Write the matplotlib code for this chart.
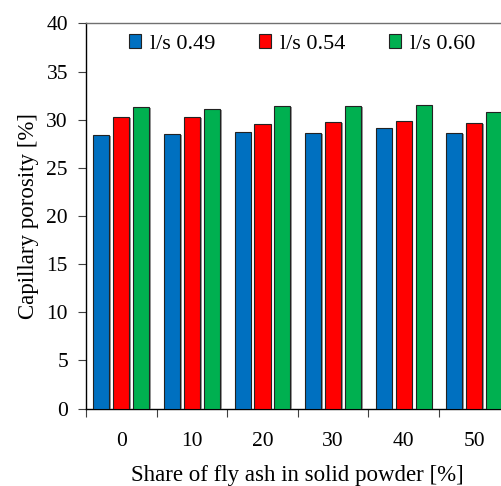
import matplotlib
matplotlib.use("Agg")
import matplotlib.pyplot as plt
import matplotlib.patheffects as pe
import numpy as np

plt.rcParams['font.family'] = ['Liberation Serif', 'DejaVu Serif']

categories = ['0', '10', '20', '30', '40', '50']
series_names = ['l/s 0.49', 'l/s 0.54', 'l/s 0.60']
ls049 = [28.4, 28.5, 28.7, 28.6, 29.1, 28.6]
ls054 = [30.3, 30.3, 29.55, 29.8, 29.9, 29.7]
ls060 = [31.3, 31.1, 31.45, 31.45, 31.5, 30.8]
colors = ['#0070C0', '#FF0000', '#00B050']
yticks = [0, 5, 10, 15, 20, 25, 30, 35, 40]

fig = plt.figure(figsize=(5.02, 4.86), dpi=100)
ax = fig.add_axes([86/502, 77.5/486, 423.6/502, 385/486])

x = np.arange(len(categories))
width = 0.227
offset = 0.283
shadow = [pe.SimplePatchShadow(offset=(1.2, -0.8), shadow_rgbFace='#7f7f7f', alpha=0.8), pe.Normal()]
for i, (vals, name, c) in enumerate(zip([ls049, ls054, ls060], series_names, colors)):
    bars = ax.bar(x + (i - 1) * offset, vals, width, color=c, edgecolor='#222222',
                  linewidth=0.8, label=name, zorder=3)
    for b in bars:
        b.set_path_effects(shadow)

ax.set_xlim(-0.5, len(categories) - 0.5)
ax.set_ylim(0, 40)
ax.set_yticks(yticks)
ax.set_xticks(np.arange(len(categories) + 1) - 0.5)
ax.set_xticklabels([])
ax.set_xticks(x, minor=True)
ax.set_xticklabels(categories, minor=True)
ax.tick_params(axis='x', which='major', direction='out', length=6, width=0.8, color='#404040')
ax.tick_params(axis='x', which='minor', length=0, pad=17, labelsize=15.5)
ax.tick_params(axis='y', direction='out', length=6, width=0.8, color='#404040', labelsize=15.5, pad=7)

for s in ['left', 'bottom']:
    ax.spines[s].set_color('black')
    ax.spines[s].set_linewidth(1.0)
ax.spines['top'].set_color('#707070')
ax.spines['top'].set_linewidth(1.0)
ax.spines['right'].set_color('#707070')

ax.set_ylabel('Capillary porosity [%]', fontsize=16.5)
ax.yaxis.set_label_coords(-0.11, 0.5)
ax.set_xlabel('Share of fly ash in solid powder [%]', fontsize=16.5)
ax.xaxis.set_label_coords(0.5, -0.147)

leg = ax.legend(ncol=3, loc='center', bbox_to_anchor=(0.51, 0.947), frameon=False,
                fontsize=16, handlelength=0.55, handleheight=0.55, handletextpad=0.4,
                columnspacing=1.95, borderpad=0)
for h in leg.legend_handles:
    h.set_path_effects([])
    h.set_edgecolor('#222222')

fig.savefig('out.png', dpi=100)
